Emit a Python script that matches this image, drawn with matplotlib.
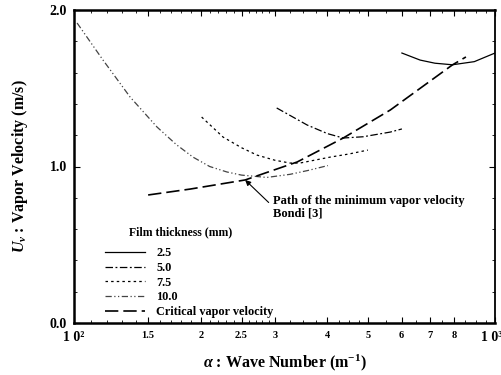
import matplotlib
matplotlib.use("Agg")
import matplotlib.pyplot as plt
import matplotlib.transforms as mtrans
from matplotlib.ticker import FixedLocator, NullFormatter, MultipleLocator

plt.rcParams['font.family'] = ['Liberation Serif', 'DejaVu Serif']
plt.rcParams['font.weight'] = 'bold'
plt.rcParams['mathtext.fontset'] = 'custom'
plt.rcParams['mathtext.rm'] = 'Liberation Serif:bold'
plt.rcParams['mathtext.it'] = 'Liberation Serif:italic'
plt.rcParams['mathtext.bf'] = 'Liberation Serif:bold'

# Film thickness 2.5 mm
a25 = [601, 664, 720, 792, 893, 1000]
u25 = [1.725, 1.68, 1.66, 1.65, 1.67, 1.725]
# Film thickness 5.0 mm
a50 = [303, 358, 400, 436, 486, 564, 601]
u50 = [1.374, 1.265, 1.21, 1.182, 1.19, 1.22, 1.24]
# Film thickness 7.5 mm
a75 = [201, 226, 250, 272, 300, 326, 344, 406, 450, 499]
u75 = [1.316, 1.188, 1.12, 1.073, 1.04, 1.022, 1.022, 1.06, 1.08, 1.105]
# Film thickness 10.0 mm
a100 = [101.7, 117.2, 135.9, 157.5, 175, 191.7, 210, 230.8, 250, 272, 287, 326, 360, 401]
u100 = [1.917, 1.68, 1.444, 1.252, 1.14, 1.06, 1.0, 0.965, 0.945, 0.936, 0.93, 0.95, 0.975, 1.006]
# Critical vapor velocity
acr = [150, 189, 255, 339, 436, 564, 792, 853]
ucr = [0.818, 0.856, 0.914, 1.029, 1.182, 1.361, 1.649, 1.70]

xticks_major = [100, 150, 200, 250, 300, 400, 500, 600, 700, 800, 1000]
xtick_labels = ['1 0²', '1.5', '2', '2.5', '3', '4', '5', '6', '7', '8', '1 0³']

fig = plt.figure(figsize=(5.02, 3.75), dpi=100)
ax = fig.add_axes([74/502, 1-323/375, (495-74)/502, (323-10)/375])
ax.set_xscale('log')
ax.set_xlim(100, 1000)
ax.set_ylim(0, 2.0)

lw = 0.9
ax.plot(a25, u25, color='black', lw=lw, ls='-', label='2.5')
ax.plot(a50, u50, color='black', lw=lw, ls=(0, (6, 2, 1.5, 2)), label='5.0')
ax.plot(a75, u75, color='black', lw=lw, ls=(0, (2, 2.5)), label='7.5')
ax.plot(a100, u100, color='#444444', lw=lw, ls=(0, (5, 2, 1, 2, 1, 2)), label='10.0')
ax.plot(acr, ucr, color='black', lw=1.2, ls=(0, (8, 3)), label='Critical vapor velocity')

# annotation
ax.annotate('', xy=(255, 0.914), xytext=(290, 0.77),
            arrowprops=dict(arrowstyle='-|>', color='black', lw=0.8,
                            mutation_scale=8, shrinkA=0, shrinkB=0))
ax.text(297, 0.82, 'Path of the minimum vapor velocity\nBondi [3]',
        fontsize=9, fontweight='bold', ha='left', va='top', linespacing=1.1)

# ticks
ax.xaxis.set_major_locator(FixedLocator(xticks_major))
ax.set_xticklabels(xtick_labels)
minor = [110, 120, 130, 140, 160, 170, 180, 190, 210, 220, 230, 240,
         260, 270, 280, 290, 325, 350, 375, 425, 450, 475, 550, 650, 750, 850, 900, 950]
ax.xaxis.set_minor_locator(FixedLocator(minor))
ax.xaxis.set_minor_formatter(NullFormatter())
ax.set_yticks([0.0, 1.0, 2.0])
ax.set_yticklabels(['0.0', '1.0', '2.0'])
ax.yaxis.set_minor_locator(MultipleLocator(0.2))

ax.tick_params(which='both', direction='in', top=True, right=True)
ax.tick_params(which='major', length=4, width=0.8)
ax.tick_params(which='minor', length=2.5, width=0.6)
ax.tick_params(axis='y', labelsize=10, pad=5)
ax.tick_params(axis='x', labelsize=7.5, pad=6)
xlabs = ax.get_xticklabels()
for lab in xlabs:
    lab.set_fontweight('bold')
    if lab.get_text().startswith('1 0'):
        lab.set_fontsize(10)
xlabs[-1].set_transform(xlabs[-1].get_transform() +
                        mtrans.ScaledTranslation(-3/100, 0, fig.dpi_scale_trans))
for lab in ax.get_yticklabels():
    lab.set_fontweight('bold')

for side in ['left', 'bottom', 'top']:
    ax.spines[side].set_linewidth(1.8)
ax.spines['right'].set_linewidth(1.3)

ax.set_xlabel(r'$\alpha$ : Wave Number (m$^{-1}$)', fontsize=11.5, fontweight='bold', labelpad=6)
ax.set_ylabel(r'$U_v$ : Vapor Velocity (m/s)', fontsize=11.5, fontweight='bold', labelpad=14)

leg = ax.legend(loc='lower left', bbox_to_anchor=(0.05, -0.015), frameon=False,
                fontsize=8.8, handlelength=3.3, handletextpad=0.9,
                labelspacing=0.22, borderpad=0.3)
for t in leg.get_texts():
    t.set_fontweight('bold')
fig.text(181/502, 1-232/375, 'Film thickness (mm)', fontsize=8.5, fontweight='bold',
         ha='center', va='center')

fig.savefig('out.png', dpi=100)
